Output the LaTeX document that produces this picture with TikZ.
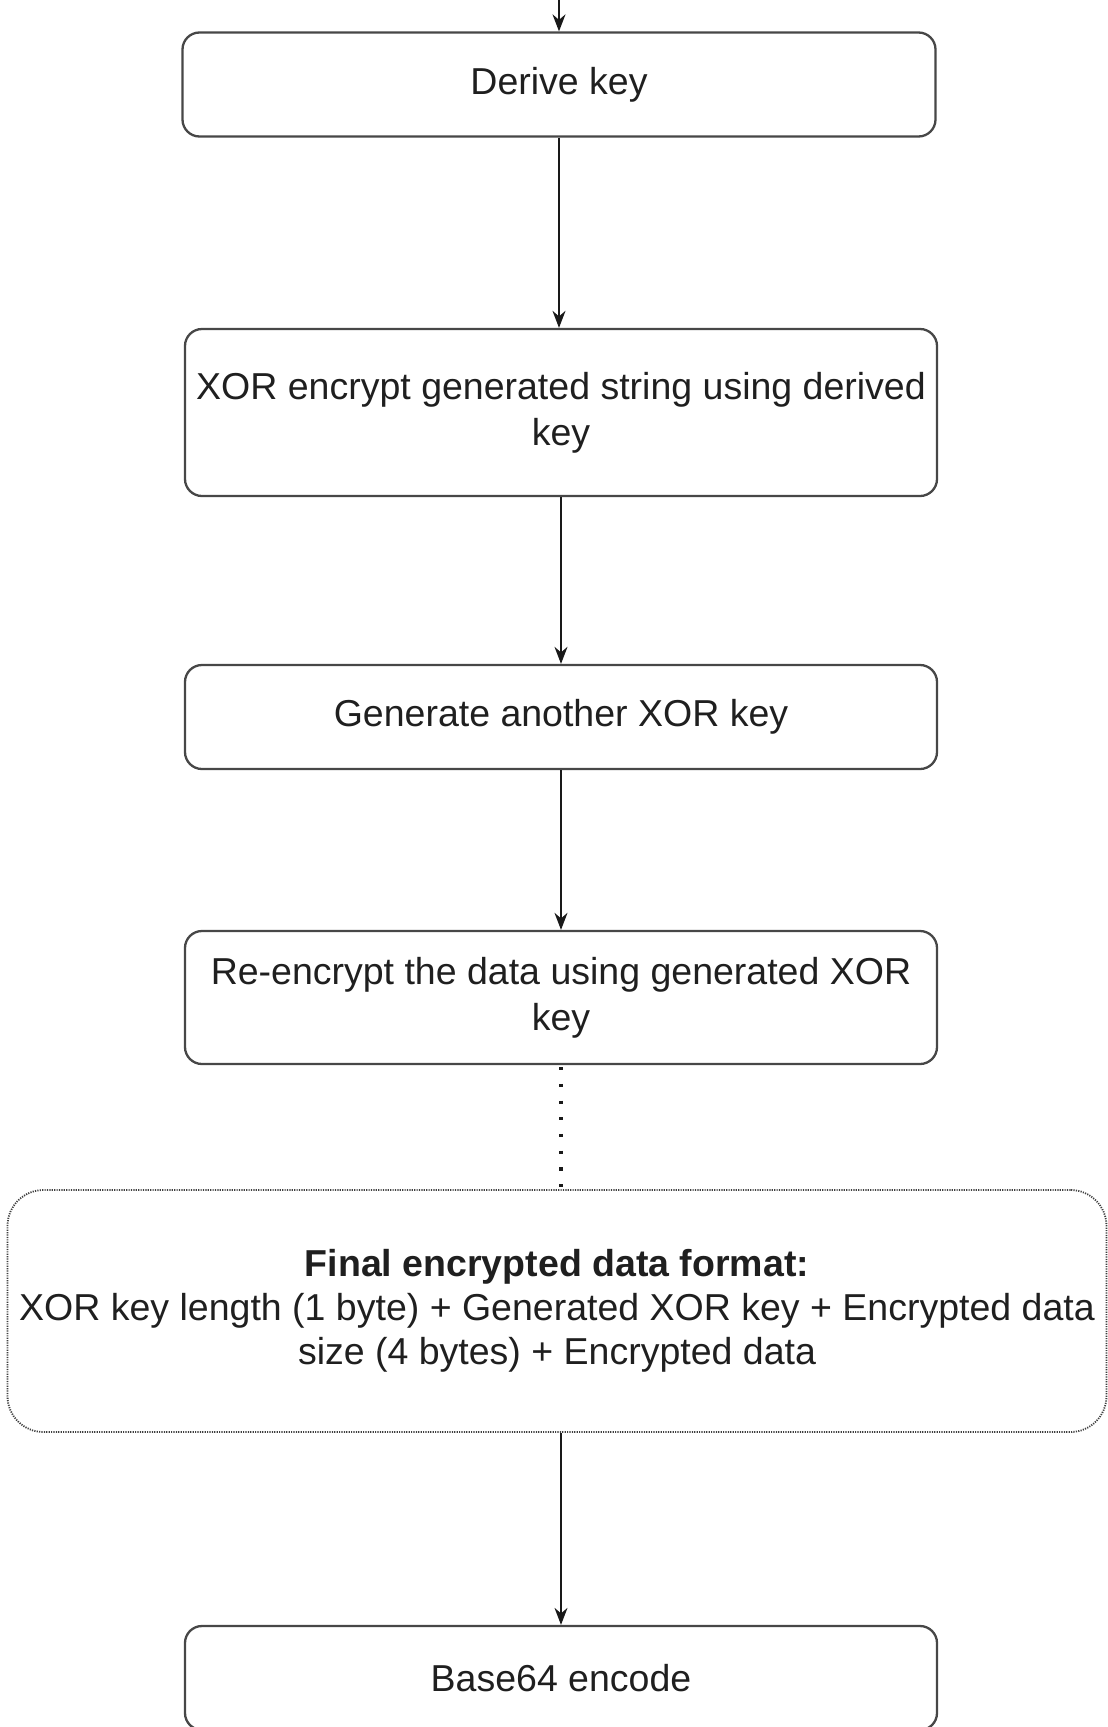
\documentclass[tikz,border=0pt]{standalone}
\usepackage{fontspec}
\setmainfont{Liberation Sans}
\usetikzlibrary{arrows.meta}
\begin{document}
\begin{tikzpicture}[x=1pt,y=-1pt,
  stepbox/.style={draw=black!72, line width=2.3pt, rounded corners=17pt,
    minimum width=753pt, minimum height=104pt, align=center,
    font=\fontsize{37.5}{46}\selectfont, text=black!88, inner sep=0pt},
  formatbox/.style={draw=black!75, line width=1.8pt, dash pattern=on 1.2pt off 1.2pt,
    rounded corners=36pt, minimum width=1099pt, minimum height=242pt, align=center,
    font=\fontsize{37.5}{44}\selectfont, text=black!88, inner sep=0pt},
  flow/.style={draw=black!90, line width=1.6pt, -{Stealth[length=17pt,width=13pt]}},
  dotline/.style={draw=black!90, line width=3.6pt, dash pattern=on 3.2pt off 13.5pt}
]
\useasboundingbox (0,0) rectangle (1108,1727);

\coordinate (start) at (559,0);
\node[stepbox] (b1) at (559,84.5) {Derive key};
\node[stepbox, minimum width=752pt, minimum height=167pt] (b2) at (561,412.5) {XOR encrypt generated string using derived\\key};
\node[stepbox, minimum width=752pt] (b3) at (561,717) {Generate another XOR key};
\node[stepbox, minimum width=752pt, minimum height=133pt] (b4) at (561,997.5) {Re-encrypt the data using generated XOR\\key};
\node[formatbox] (b5) at (557,1311) {\textbf{Final encrypted data format:}\\XOR key length (1 byte) + Generated XOR key + Encrypted data\\size (4 bytes) + Encrypted data};
\node[stepbox, minimum width=752pt] (b6) at (561,1678) {Base64 encode};

\draw[flow] (start) -- (b1.north);
\draw[flow] (b1.south) -- (b2.north -| b1.south);
\draw[flow] (b2.south) -- (b3.north);
\draw[flow] (b3.south) -- (b4.north);
\draw[dotline] ([yshift=-2pt]b4.south) -- (b4.south |- b5.north);
\draw[flow] (b6.north |- b5.south) -- (b6.north);
\end{tikzpicture}
\end{document}
